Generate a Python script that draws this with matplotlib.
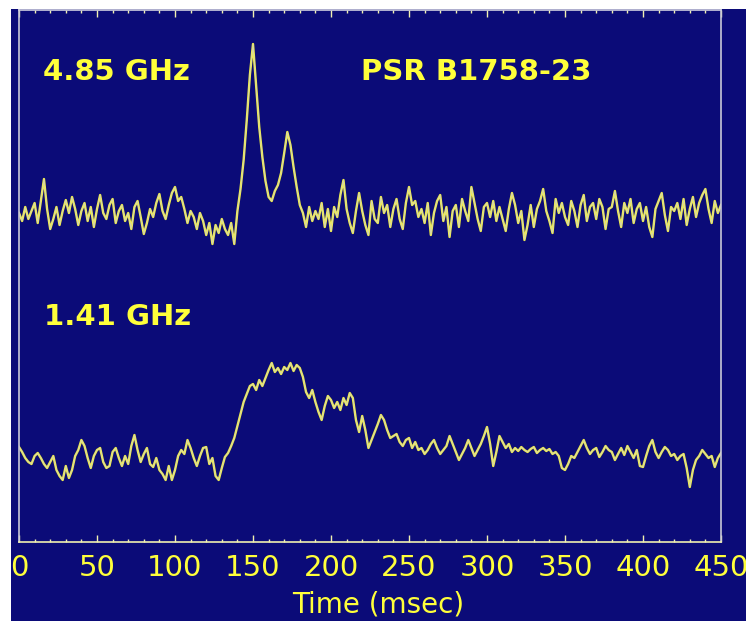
import numpy as np
import matplotlib.pyplot as plt

# time axis in msec, one sample every 2 msec
t = np.arange(0, 451, 2)

# 4.85 GHz profile (arbitrary units above its baseline), 10 samples per row
high_freq = [2, -6, 8, -4, 4, 12, -8, 14, 36, 6,
             -14, -4, 8, -10, 4, 15, 2, 18, 6, -10,
             4, 12, -6, 8, -12, 6, 20, 2, -4, 10,
             16, -8, 4, 10, -6, 2, -14, 8, 14, -2,
             -19, -8, 6, -2, 12, 21, 4, -4, 10, 22,
             28, 14, 18, 6, -8, 4, -2, -14, 2, -6,
             -20, -8, -29, -10, -18, -4, -14, -20, -8, -29,
             4, 26, 55, 95, 140, 171, 130, 88, 58, 34,
             18, 14, 24, 30, 42, 62, 83, 70, 48, 28,
             10, 2, -12, 8, -6, 4, -4, 12, -12, 6,
             -16, 8, -2, 20, 35, 6, -8, -18, 4, 22,
             4, -10, -20, 14, -4, -8, 18, 2, 10, -12,
             6, 16, -4, -14, 12, 28, 10, 14, -2, 6,
             -8, 12, -20, 2, 14, 20, -6, 8, -22, 4,
             10, -12, 16, 4, -6, 28, 12, -4, -16, 8,
             12, -2, 14, -6, 8, -4, -16, 6, 22, 10,
             -8, 4, -25, -10, 10, -12, 6, 14, 26, 4,
             -6, -18, 16, 2, 12, -2, -10, 14, 4, -12,
             10, 20, -6, 8, 12, -4, 16, 8, -14, 6,
             8, 24, 4, -12, 12, 2, 16, -8, 6, 12,
             -6, 8, -12, -22, 6, 14, 22, 0, -16, 8,
             4, 12, -4, 16, -10, 6, 18, -2, 12, 20,
             26, 6, -8, 14, 2, 10]

# 1.41 GHz profile (arbitrary units above its baseline)
low_freq = [13, 8, 2, -2, -4, 4, 7, 2, -4, -8,
            -2, 4, -10, -16, -20, -6, -18, -10, 4, 10,
            20, 14, 2, -8, 4, 10, 12, -2, -8, -6,
            8, 12, 2, -6, 4, -4, 14, 25, 10, -2,
            6, 12, -4, -7, 2, -10, -14, -20, -6, -20,
            -10, 4, 10, 6, 20, 12, 2, -6, 4, 12,
            13, -4, 2, -16, -20, -8, 3, 7, 14, 22,
            34, 46, 58, 66, 74, 76, 70, 80, 74, 82,
            90, 97, 88, 92, 86, 93, 90, 97, 89, 95,
            92, 83, 68, 62, 70, 58, 48, 40, 54, 64,
            60, 52, 58, 50, 62, 55, 67, 62, 40, 28,
            44, 30, 12, 20, 28, 36, 45, 40, 30, 22,
            24, 26, 18, 14, 20, 22, 12, 18, 10, 12,
            6, 10, 16, 20, 12, 6, 10, 14, 24, 16,
            8, 0, 6, 12, 20, 12, 4, 10, 16, 24,
            33, 16, -6, 8, 24, 18, 12, 16, 8, 12,
            9, 13, 10, 8, 11, 13, 7, 10, 12, 9,
            11, 6, 8, 4, -8, -10, -4, 4, 2, 8,
            14, 20, 12, 6, 10, 12, 3, 8, 14, 10,
            8, 0, 6, 12, 5, 14, 8, 2, 10, -6,
            -7, 4, 14, 20, 8, 2, 8, 13, 10, 4,
            6, 0, 4, 6, -8, -27, -10, 0, 4, 10,
            6, 2, 4, -7, 2, 7]

high_offset = 327
low_offset = 82

bg = '#0b0b78'
yellow = '#f2f040'
text_yellow = '#ffff3a'

# white page, the blue panel leaves a thin white strip on top and left
fig = plt.figure(figsize=(7.46, 6.21), dpi=100, facecolor='white')
back = fig.add_axes([11/746, 0, 1 - 11/746, 1 - 9/621], facecolor=bg, zorder=-1)
back.set_axis_off()
back.add_patch(plt.Rectangle((0, 0), 1, 1, transform=back.transAxes,
                             facecolor=bg, edgecolor='none'))

ax = fig.add_axes([19/746, 79/621, 702/746, 532/621], facecolor=bg)

for vals, off in [(high_freq, high_offset), (low_freq, low_offset)]:
    y = np.array(vals) + off
    ax.plot(t, y, color=yellow, lw=1.7, solid_joinstyle='round')
    ax.plot(t, y, color='#d4d4b8', lw=0.6)

ax.set_xlim(0, 450)
ax.set_ylim(0, 532)
ax.set_yticks([])
ax.set_xticks(np.arange(0, 451, 50))
ax.set_xticks(np.arange(0, 451, 10), minor=True)
ax.tick_params(axis='x', which='both', direction='in', top=True, bottom=True,
               color='#f0f0b0', labelcolor=text_yellow, labelsize=21, pad=9)
ax.tick_params(axis='x', which='major', length=5, width=1)
ax.tick_params(axis='x', which='minor', length=2.5, width=1)

ax.spines['bottom'].set_color('#f0f0b0')
ax.spines['top'].set_color('#d0d0e0')
ax.spines['left'].set_color('#c8c8d8')
ax.spines['right'].set_color('#c8c8d8')
for s in ax.spines.values():
    s.set_linewidth(1.2)

ax.set_xlabel('Time (msec)', color=text_yellow, fontsize=20)
ax.xaxis.set_label_coords(0.511, -0.118)
ax.xaxis.label.set_verticalalignment('center')

ax.text(0.034, 0.868, '4.85 GHz', transform=ax.transAxes, color=text_yellow,
        fontsize=21, fontweight='bold', va='baseline')
ax.text(0.487, 0.868, 'PSR B1758-23', transform=ax.transAxes, color=text_yellow,
        fontsize=21, fontweight='bold', va='baseline')
ax.text(0.036, 0.408, '1.41 GHz', transform=ax.transAxes, color=text_yellow,
        fontsize=21, fontweight='bold', va='baseline')

fig.savefig('out.png', dpi=100, facecolor='white')
